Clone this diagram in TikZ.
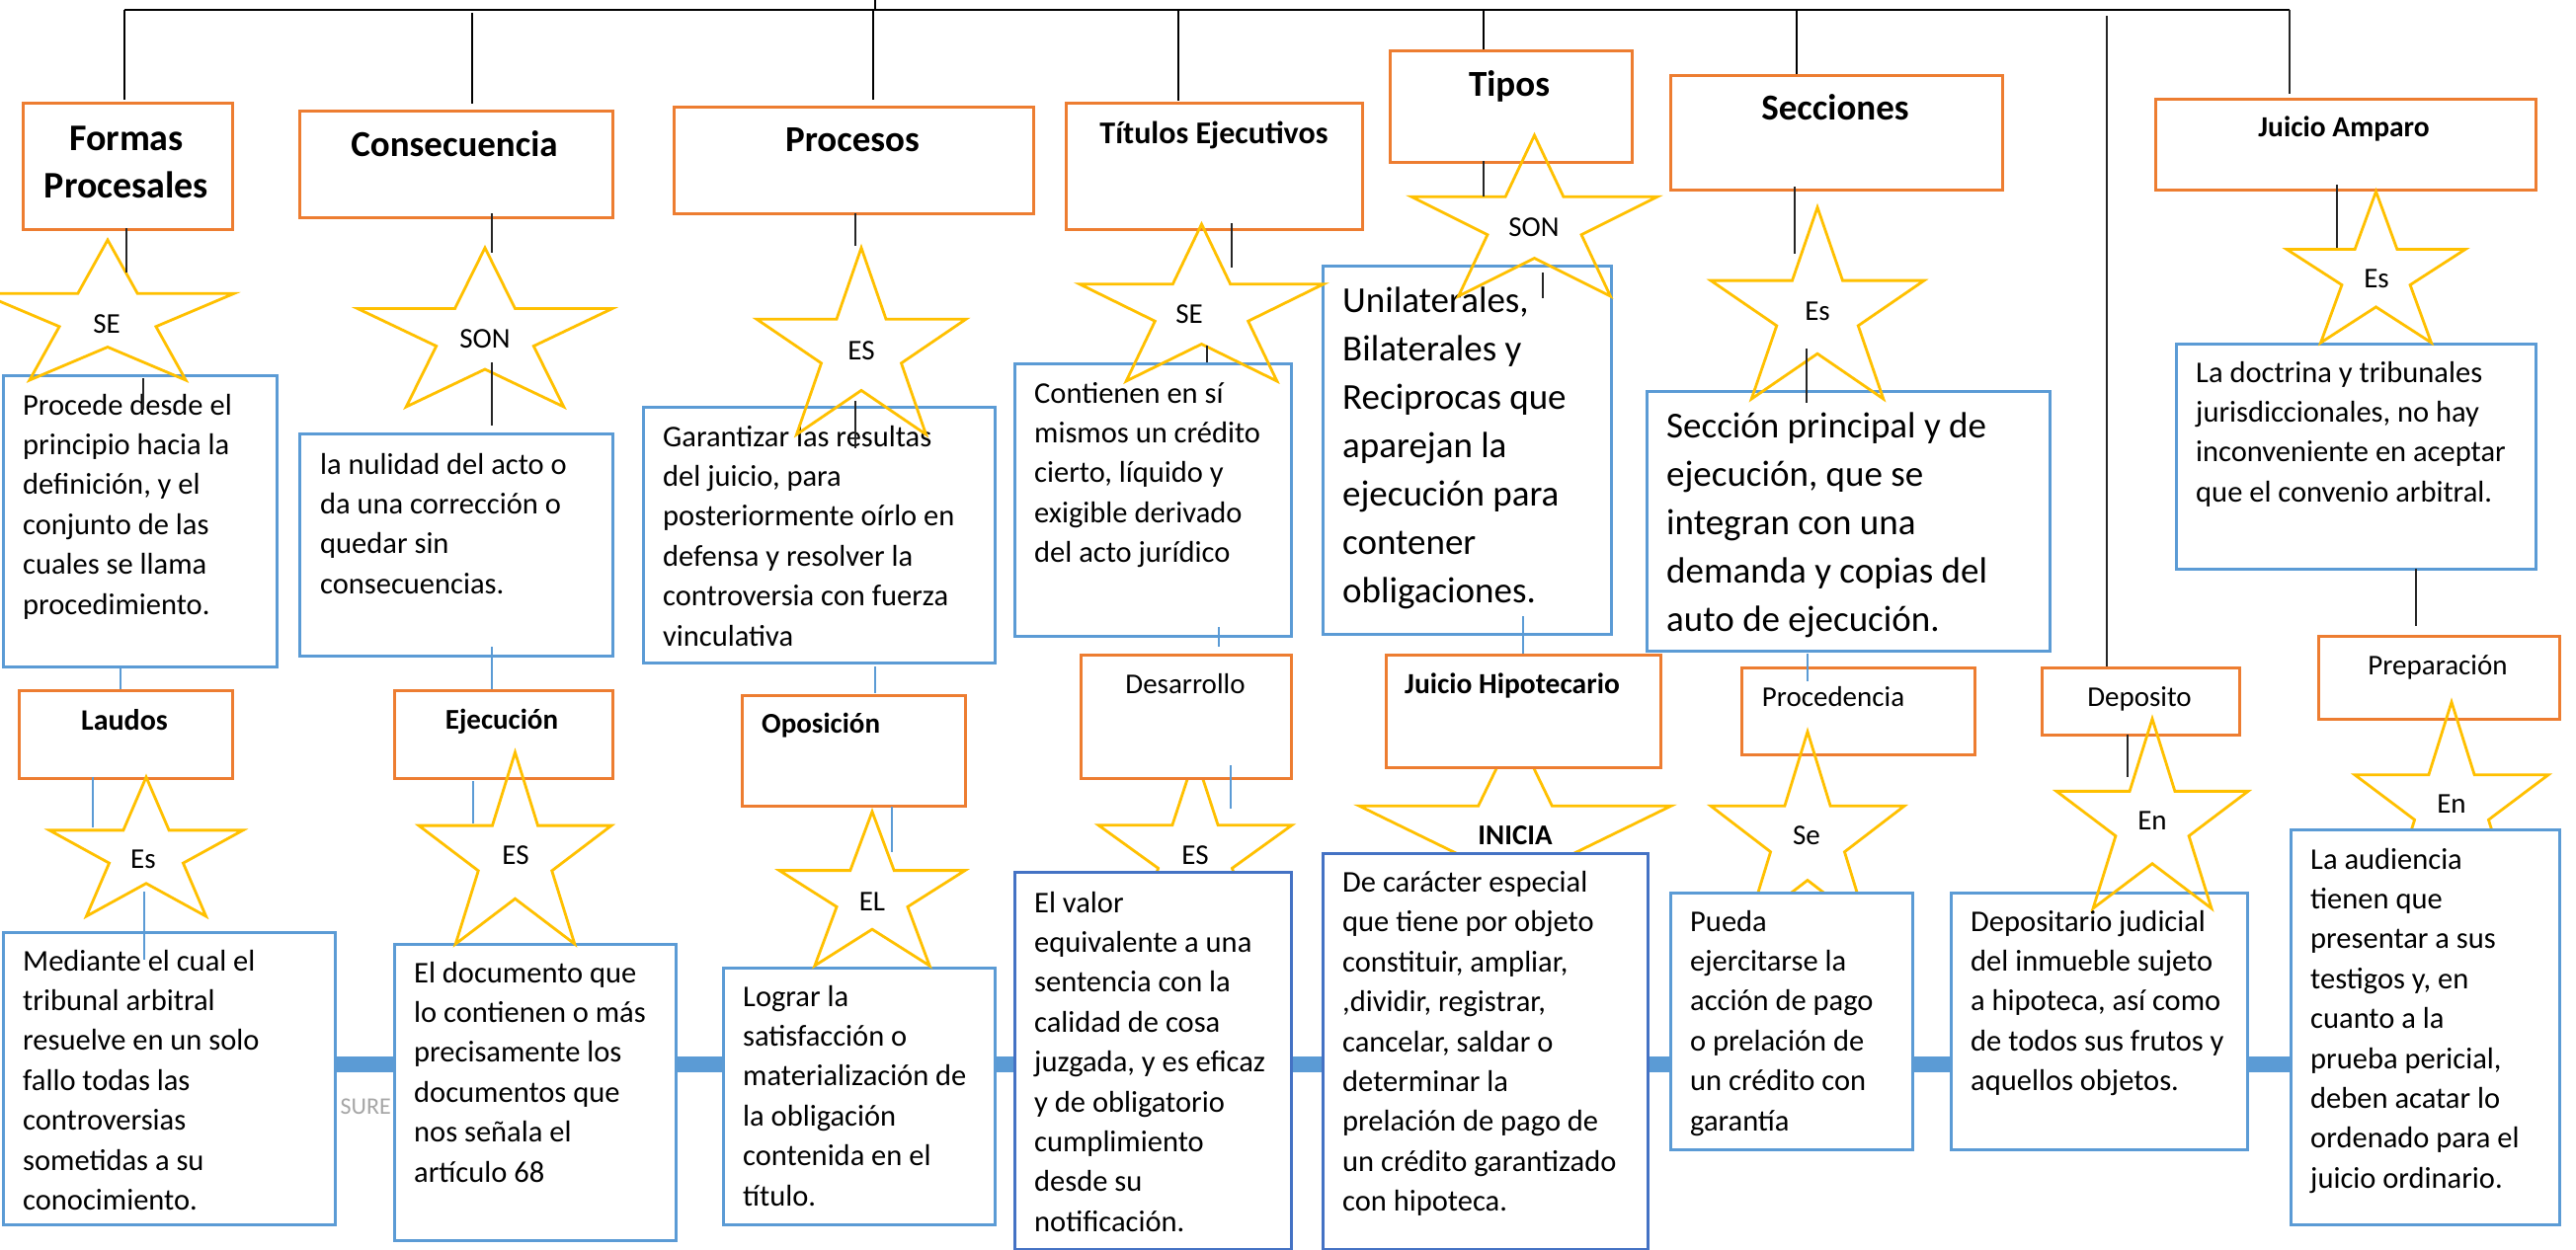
\documentclass[tikz,border=0pt]{standalone}
\usepackage{fontspec}
\setmainfont{Carlito}
\definecolor{orng}{HTML}{ED7D31}
\definecolor{bluec}{HTML}{5B9BD5}
\definecolor{dbluec}{HTML}{4472C4}
\definecolor{ylw}{HTML}{FFC000}
\definecolor{greytxt}{HTML}{A6A6A6}
\newcommand\hdrbox[5]{\node[obox,anchor=north west,minimum width={((#4)-(#2))*1pt},minimum height={((#5)-(#3))*1pt}] (#1) at (#2,#3) {};}
\newcommand\bodbox[6][bluec]{\node[bbox,draw=#1,anchor=north west,minimum width={((#5)-(#3))*1pt},minimum height={((#6)-(#4))*1pt}] (#2) at (#3,#4) {};}
\newcommand\wstar[4]{\begin{scope}[shift={(#1,#2)},xscale={(#3)-(#1)},yscale={(#4)-(#2)}]
\draw[starline] (0.5,0) -- (0.618,0.382) -- (1,0.382) -- (0.691,0.618) -- (0.809,1) -- (0.5,0.764) -- (0.191,1) -- (0.309,0.618) -- (0,0.382) -- (0.382,0.382) -- cycle;
\end{scope}}
\newcommand\slbl[4][]{\node[starlbl,#1] (#2) at (#3) {#4};}
\newcommand\seg[5]{\coordinate (#1a) at (#3,#4); \coordinate (#1b) at (#3,#5); \draw[#2] (#1a) -- (#1b);}
\newcommand\btxt[5][bodytxt]{\node[#1] (#2) at (#3,#4) {\parbox[t]{560pt}{#5}};}
\begin{document}
\begin{tikzpicture}[x=1pt,y=-1pt,
  obox/.style={draw=orng,line width=3.2pt,fill=white,inner sep=0,rectangle},
  bbox/.style={line width=3.2pt,fill=white,inner sep=0,rectangle},
  starline/.style={draw=ylw,line width=2.8pt,line join=miter},
  starlbl/.style={anchor=base,inner sep=0,font=\fontsize{29}{34}\selectfont},
  treeline/.style={draw=black,line width=2pt},
  kline/.style={draw=black!85,line width=1.6pt},
  bline/.style={draw=bluec,line width=1.8pt},
  thick link/.style={draw=bluec,line width=16pt},
  bodytxt/.style={anchor=base west,inner sep=0,font=\fontsize{30.5}{40.4}\selectfont},
  bigtxt/.style={anchor=base west,inner sep=0,font=\fontsize{37}{49}\selectfont},
  hdr/.style={anchor=base,inner sep=0,font=\bfseries\fontsize{38}{48}\selectfont},
  hdrs/.style={anchor=base,inner sep=0,font=\bfseries\fontsize{29.5}{36}\selectfont},
  hdrr/.style={anchor=base,inner sep=0,font=\fontsize{29}{36}\selectfont}]
\useasboundingbox (0,0) rectangle (2608,1266);
\fill[white] (0,0) rectangle (2608,1266);
% ---- tree from the top ----
\coordinate (root) at (886,0);
\coordinate (rootj) at (886,10);
\coordinate (hl) at (126,10);
\coordinate (hr) at (2318,10);
\draw[treeline] (root) -- (rootj);
\draw[treeline] (hl) -- (hr);
\seg{t1}{treeline}{126}{10}{101}
\seg{t2}{treeline}{478}{13}{105}
\seg{t3}{treeline}{884}{10}{101}
\seg{t4}{treeline}{1193}{10}{102}
\seg{t5}{treeline}{1502}{10}{50}
\seg{t6}{treeline}{1819}{10}{94}
\seg{t7}{kline}{2133}{16}{675}
\seg{t8}{kline}{2318}{10}{95}
% ---- bottom thick links ----
\bodbox{bMed}{2}{943}{338}{1239}
\bodbox{bDoc}{398}{955}{683}{1255}
\bodbox{bLog}{731}{979}{1006}{1239}
\bodbox[dbluec]{bVal}{1026}{882}{1306}{1264}
\bodbox[dbluec]{bDe}{1338}{863}{1667}{1264}
\bodbox{bPue}{1690}{903}{1935}{1163}
\bodbox{bDepo}{1974}{903}{2274}{1163}
\bodbox{bAud}{2318}{839}{2590}{1239}
\draw[thick link] (bMed.east |- 0,1078) -- (bDoc.west |- 0,1078);
\draw[thick link] (bDoc.east |- 0,1078) -- (bLog.west |- 0,1078);
\draw[thick link] (bLog.east |- 0,1078) -- (bVal.west |- 0,1078);
\draw[thick link] (bVal.east |- 0,1078) -- (bDe.west |- 0,1078);
\draw[thick link] (bDe.east |- 0,1078) -- (bPue.west |- 0,1078);
\draw[thick link] (bPue.east |- 0,1078) -- (bDepo.west |- 0,1078);
\draw[thick link] (bDepo.east |- 0,1078) -- (bAud.west |- 0,1078);
% ---- stars hidden behind boxes ----
\wstar{1112}{765}{1308}{950}
\wstar{1376}{739}{1692}{941}
% ---- header boxes ----
\hdrbox{hFormas}{22}{103}{234}{231}
\hdrbox{hCons}{302}{111}{619}{219}
\hdrbox{hProc}{681}{107}{1045}{215}
\hdrbox{hTit}{1078}{103}{1378}{231}
\hdrbox{hTipos}{1406}{50}{1651}{163}
\hdrbox{hSecc}{1690}{75}{2026}{191}
\hdrbox{hAmp}{2181}{99}{2566}{191}
\hdrbox{hLaudos}{18}{698}{234}{787}
\hdrbox{hEjec}{398}{698}{619}{787}
\hdrbox{hOpos}{750}{703}{976}{815}
\hdrbox{hDes}{1093}{662}{1306}{787}
\hdrbox{hJH}{1402}{662}{1680}{776}
\hdrbox{hProcd}{1762}{675}{1998}{763}
\hdrbox{hDep}{2066}{675}{2266}{743}
\hdrbox{hPrep}{2346}{643}{2590}{727}
% ---- stars over headers, under bodies ----
\wstar{1732}{741}{1928}{938}
\wstar{2384}{711}{2580}{904}
% ---- body boxes ----
\bodbox{bProc}{2}{379}{279}{674}
\bodbox{bCons}{302}{438}{619}{663}
\bodbox{bGar}{650}{411}{1006}{670}
\bodbox{bCont}{1026}{367}{1306}{643}
\bodbox{bUni}{1338}{268}{1630}{641}
\bodbox{bSecc}{1666}{395}{2074}{658}
\bodbox{bDoct}{2202}{347}{2566}{575}
\bodbox{bMed2}{2}{943}{338}{1239}
\bodbox{bDoc2}{398}{955}{683}{1255}
\bodbox{bLog2}{731}{979}{1006}{1239}
\bodbox[dbluec]{bVal2}{1026}{882}{1306}{1264}
\bodbox[dbluec]{bDe2}{1338}{863}{1667}{1264}
\bodbox{bPue2}{1690}{903}{1935}{1163}
\bodbox{bDepo2}{1974}{903}{2274}{1163}
\bodbox{bAud2}{2318}{839}{2590}{1239}
% ---- header texts ----
\node[hdr] (tFormas) at (128,152) {\parbox[t]{300pt}{\centering Formas\\Procesales}};
\node[hdr,font=\bfseries\fontsize{37}{45}\selectfont] (tCons) at (460,158) {Consecuencia};
\node[hdr,font=\bfseries\fontsize{37}{45}\selectfont] (tProc) at (863,153) {Procesos};
\node[hdr,font=\bfseries\fontsize{32}{40}\selectfont] (tTit) at (1229,145) {Títulos Ejecutivos};
\node[hdr,font=\bfseries\fontsize{37}{45}\selectfont] (tTipos) at (1528,97) {Tipos};
\node[hdr,font=\bfseries\fontsize{37}{45}\selectfont] (tSecc) at (1858,121) {Secciones};
\node[hdrs] (tAmp) at (2373,138) {Juicio Amparo};
\node[hdrs,font=\bfseries\fontsize{30}{36}\selectfont] (tLaudos) at (126,739) {Laudos};
\node[hdrs,font=\bfseries\fontsize{29}{36}\selectfont] (tEjec) at (508,738) {Ejecución};
\node[hdrs,font=\bfseries\fontsize{29}{36}\selectfont,anchor=base west] (tOpos) at (771,742) {Oposición};
\node[hdrr] (tDes) at (1200,702) {Desarrollo};
\node[hdrs] (tJH) at (1531,702) {Juicio Hipotecario};
\node[hdrr] (tProcd) at (1856,715) {Procedencia};
\node[hdrr] (tDep) at (2166,715) {Deposito};
\node[hdrr] (tPrep) at (2468,683) {Preparación};
% ---- body texts ----
\btxt{xProc}{23}{420}{Procede desde el\\principio hacia la\\definición, y el\\conjunto de las\\cuales se llama\\procedimiento.}
\btxt{xCons}{324}{480}{la nulidad del acto o\\da una corrección o\\quedar sin\\consecuencias.}
\btxt{xGar}{671}{452}{Garantizar las resultas\\del juicio, para\\posteriormente oírlo en\\defensa y resolver la\\controversia con fuerza\\vinculativa}
\btxt{xCont}{1047}{408}{Contienen en sí\\mismos un crédito\\cierto, líquido y\\exigible derivado\\del acto jurídico}
\btxt[bigtxt]{xUni}{1359}{316}{Unilaterales,\\Bilaterales y\\Reciprocas que\\aparejan la\\ejecución para\\contener\\obligaciones.}
\btxt[bigtxt]{xSecc}{1687}{443}{Sección principal y de\\ejecución, que se\\integran con una\\demanda y copias del\\auto de ejecución.}
\btxt{xDoct}{2223}{387}{La doctrina y tribunales\\jurisdiccionales, no hay\\inconveniente en aceptar\\que el convenio arbitral.}
\btxt{xMed}{23}{983}{Mediante el cual el\\tribunal arbitral\\resuelve en un solo\\fallo todas las\\controversias\\sometidas a su\\conocimiento.}
\btxt{xDoc}{419}{995}{El documento que\\lo contienen o más\\precisamente los\\documentos que\\nos señala el\\artículo 68}
\btxt{xLog}{752}{1019}{Lograr la\\satisfacción o\\materialización de\\la obligación\\contenida en el\\título.}
\btxt{xVal}{1047}{924}{El valor\\equivalente a una\\sentencia con la\\calidad de cosa\\juzgada, y es eficaz\\y de obligatorio\\cumplimiento\\desde su\\notificación.}
\btxt{xDe}{1359}{903.5}{De carácter especial\\que tiene por objeto\\constituir, ampliar,\\,dividir, registrar,\\cancelar, saldar o\\determinar la\\prelación de pago de\\un crédito garantizado\\con hipoteca.}
\btxt{xPue}{1711}{943}{Pueda\\ejercitarse la\\acción de pago\\o prelación de\\un crédito con\\garantía}
\btxt{xDepo}{1995}{943}{Depositario judicial\\del inmueble sujeto\\a hipoteca, así como\\de todos sus frutos y\\aquellos objetos.}
\btxt{xAud}{2339}{880}{La audiencia\\tienen que\\presentar a sus\\testigos y, en\\cuanto a la\\prueba pericial,\\deben acatar lo\\ordenado para el\\juicio ordinario.}
\node[anchor=base east,inner sep=0,font=\fontsize{24}{28}\selectfont,text=greytxt] (sure) at (396,1128) {SURE};
% ---- stars on top ----
\wstar{-19}{243}{237}{385}
\wstar{362}{251}{620}{412}
\wstar{766}{251}{978}{440}
\wstar{1093}{227}{1340}{386}
\wstar{1429}{137}{1678}{300}
\wstar{1732}{210}{1948}{404}
\wstar{2315}{194}{2496}{347}
\wstar{50}{787}{246}{928}
\wstar{424}{762}{619}{956}
\wstar{789}{822}{977}{978}
\wstar{2082}{728}{2276}{920}
% ---- star labels ----
\slbl{s1}{108,337}{SE}
\slbl{s2}{491,352}{SON}
\slbl{s3}{872,364}{ES}
\slbl{s4}{1204,327}{SE}
\slbl{s5}{1553,239}{SON}
\slbl{s6}{1840,324}{Es}
\slbl{s7}{2406,291}{Es}
\slbl{s8}{145,879}{Es}
\slbl{s9}{522,875}{ES}
\slbl{s10}{883,922}{EL}
\slbl{s11}{1210,875}{ES}
\slbl[font=\bfseries\fontsize{29}{34}\selectfont]{s12}{1534,855}{INICIA}
\slbl{s13}{1829,855}{Se}
\slbl{s14}{2179,840}{En}
\slbl{s15}{2482,823}{En}
% ---- thin connectors ----
\seg{k1}{kline}{128}{231}{276}
\seg{k2}{kline}{145}{383}{415}
\seg{k3}{kline}{498}{216}{256}
\seg{k4}{kline}{498}{367}{431}
\seg{k5}{kline}{866}{216}{249}
\seg{k6}{kline}{866}{406}{454}
\seg{k7}{kline}{1247}{226}{271}
\seg{k8}{kline}{1222}{350}{367}
\seg{k9}{kline}{1502}{163}{199}
\seg{k10}{kline}{1562}{276}{302}
\seg{k11}{kline}{1817}{189}{257}
\seg{k12}{kline}{1829}{353}{408}
\seg{k13}{kline}{2366}{187}{251}
\seg{k14}{kline}{2446}{576}{634}
\seg{k15}{kline}{2154}{744}{787}
\seg{b1}{bline}{122}{676}{698}
\seg{b2}{bline}{94}{787}{838}
\seg{b3}{bline}{146}{903}{972}
\seg{b4}{bline}{498}{655}{698}
\seg{b5}{bline}{479}{791}{834}
\seg{b6}{bline}{886}{675}{702}
\seg{b7}{bline}{903}{817}{863}
\seg{b8}{bline}{1234}{635}{655}
\seg{b9}{bline}{1246}{775}{819}
\seg{b10}{bline}{1542}{624}{662}
\seg{b11}{bline}{1830}{662}{690}
\end{tikzpicture}
\end{document}
